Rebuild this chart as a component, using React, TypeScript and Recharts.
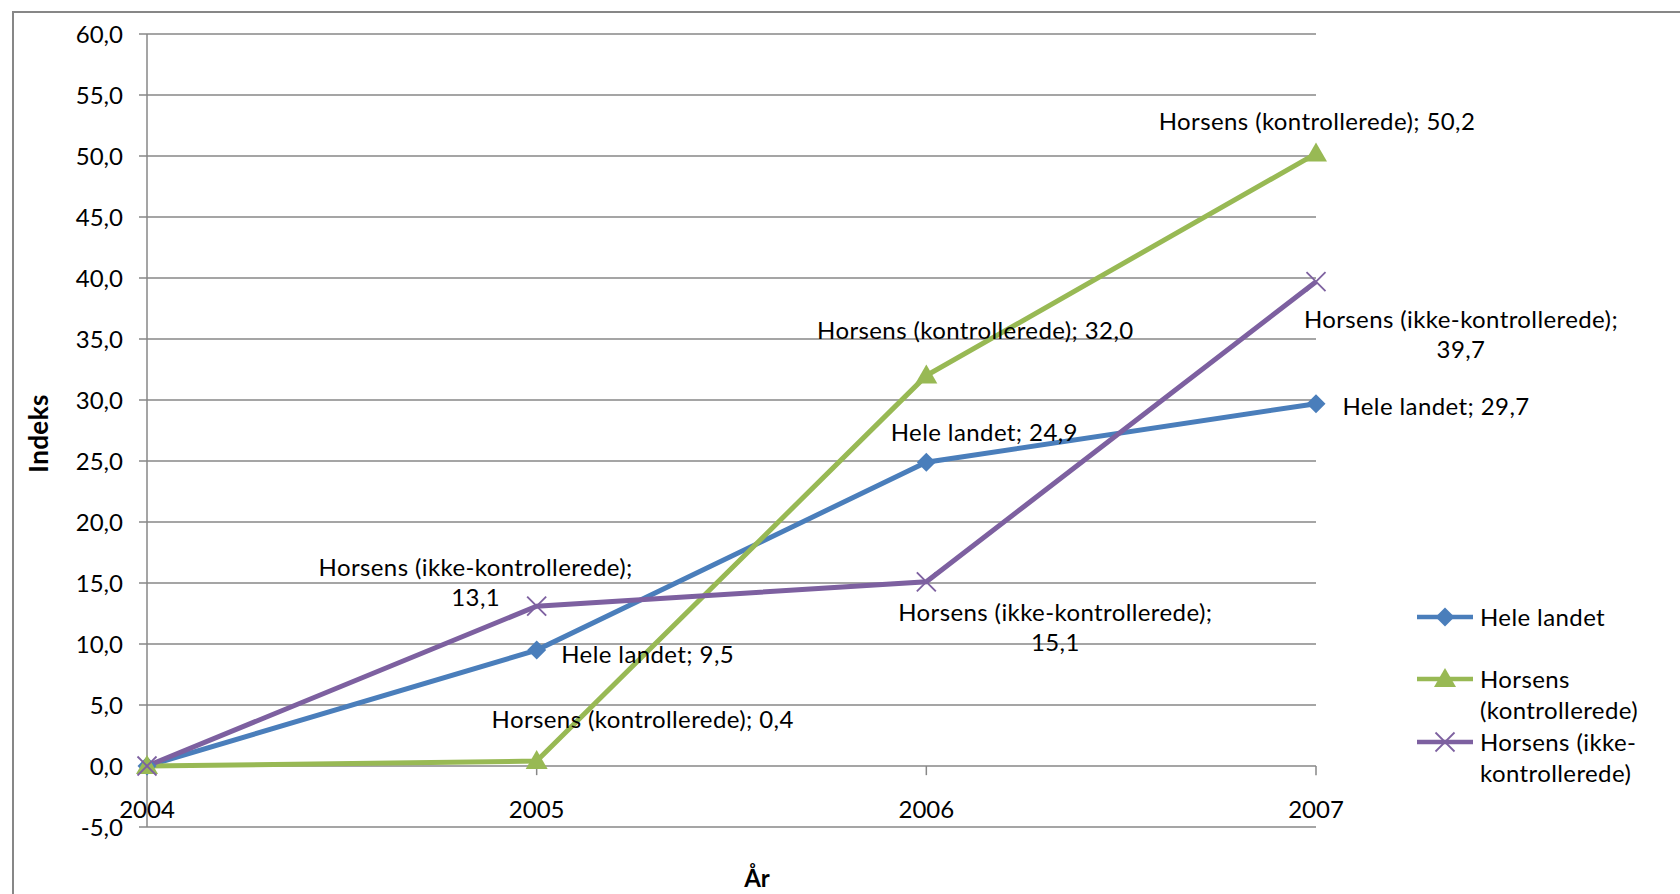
import { LineChart, Line, XAxis, YAxis, CartesianGrid, Legend, ReferenceLine, LabelList } from 'recharts'

const YEARS = ['2004', '2005', '2006', '2007']
const HELE_LANDET = [0, 9.5, 24.9, 29.7]
const HORSENS_KONTROLLEREDE = [0, 0.4, 32.0, 50.2]
const HORSENS_IKKE_KONTROLLEREDE = [0, 13.1, 15.1, 39.7]
const Y_TICKS = [-5, 0, 5, 10, 15, 20, 25, 30, 35, 40, 45, 50, 55, 60]

const SERIES = [
  { key: 'hele', name: 'Hele landet', values: HELE_LANDET, color: '#4A7EBB', marker: 'diamond', legend: ['Hele landet'], wrap: false },
  { key: 'kontrol', name: 'Horsens (kontrollerede)', values: HORSENS_KONTROLLEREDE, color: '#98B954', marker: 'triangle', legend: ['Horsens', '(kontrollerede)'], wrap: false },
  { key: 'ikke', name: 'Horsens (ikke-kontrollerede)', values: HORSENS_IKKE_KONTROLLEREDE, color: '#7D60A0', marker: 'cross', legend: ['Horsens (ikke-', 'kontrollerede)'], wrap: true },
]

// where each data label sits, relative to its point (centre of the text block)
const LABEL_OFFSETS: Record<string, ({ dx: number; dy: number } | null)[]> = {
  hele: [null, { dx: 111, dy: 5 }, { dx: 58, dy: -29 }, { dx: 120, dy: 3 }],
  kontrol: [null, { dx: 106, dy: -41 }, { dx: 49, dy: -45 }, { dx: 1, dy: -32 }],
  ikke: [null, { dx: -61, dy: -23 }, { dx: 129, dy: 46 }, { dx: 145, dy: 53 }],
}

const FONT = 'Lato, sans-serif'
const FONT_SIZE = 24
const SPACING = 0.4
const CAP_HALF = 8
const LINE_GAP = 30
const GRID = '#878787'

const chartData = YEARS.map((year, i) => {
  const row: Record<string, string | number> = { year }
  SERIES.forEach((s) => (row[s.key] = s.values[i]))
  return row
})

const fmt = (v: number) => v.toFixed(1).replace('.', ',')

function Marker({ cx, cy, type, color }: { cx: number; cy: number; type: string; color: string }) {
  if (type === 'diamond') {
    return <polygon points={`${cx},${cy - 9.5} ${cx + 9.5},${cy} ${cx},${cy + 9.5} ${cx - 9.5},${cy}`} fill={color} />
  }
  if (type === 'triangle') {
    return <polygon points={`${cx},${cy - 11} ${cx + 11},${cy + 8} ${cx - 11},${cy + 8}`} fill={color} />
  }
  return (
    <g stroke={color} strokeWidth={1.8}>
      <line x1={cx - 9.5} y1={cy - 9.5} x2={cx + 9.5} y2={cy + 9.5} />
      <line x1={cx - 9.5} y1={cy + 9.5} x2={cx + 9.5} y2={cy - 9.5} />
    </g>
  )
}

const makeLabel = (s: (typeof SERIES)[number]) => (props: any) => {
  const { index, value } = props
  const px = props.viewBox?.x ?? props.x
  const py = props.viewBox?.y ?? props.y
  const off = LABEL_OFFSETS[s.key][index]
  if (!off || px == null) return null
  const lines = s.wrap ? [`${s.name};`, fmt(value)] : [`${s.name}; ${fmt(value)}`]
  const top = py + off.dy - ((lines.length - 1) * LINE_GAP) / 2
  return (
    <g key={`${s.key}-lbl-${index}`}>
      {lines.map((t, i) => (
        <text
          key={i}
          x={px + off.dx}
          y={top + i * LINE_GAP + CAP_HALF}
          textAnchor="middle"
          fontFamily={FONT}
          fontSize={FONT_SIZE}
          letterSpacing={SPACING}
          fill="#000"
        >
          {t}
        </text>
      ))}
    </g>
  )
}

function YearTick({ x, y, payload }: any) {
  return (
    <text x={x} y={y - 9} textAnchor="middle" fontFamily={FONT} fontSize={FONT_SIZE} fill="#000">
      {payload.value}
    </text>
  )
}

function YTitle({ viewBox }: any) {
  const x = viewBox.x + 48
  const y = viewBox.y + viewBox.height / 2 + 3
  return (
    <text x={x} y={y} transform={`rotate(-90, ${x}, ${y})`} textAnchor="middle" fontFamily={FONT} fontWeight="bold" fontSize={26} letterSpacing={SPACING} fill="#000">
      Indeks
    </text>
  )
}

function XTitle() {
  return (
    <text x={757} y={887} textAnchor="middle" fontFamily={FONT} fontWeight="bold" fontSize={FONT_SIZE} fill="#000">
      År
    </text>
  )
}

function LegendBox() {
  const rows = [27, 89, 152]
  return (
    <svg width={260} height={210}>
      {SERIES.map((s, i) => (
        <g key={s.key}>
          <line x1={7} x2={63} y1={rows[i]} y2={rows[i]} stroke={s.color} strokeWidth={4.5} />
          <Marker cx={35} cy={rows[i]} type={s.marker} color={s.color} />
          {s.legend.map((t, j) => (
            <text key={j} x={70} y={rows[i] + 9 + j * 31} fontFamily={FONT} fontSize={FONT_SIZE} letterSpacing={SPACING} fill="#000">
              {t}
            </text>
          ))}
        </g>
      ))}
    </svg>
  )
}

export default function App() {
  return (
    <div style={{ position: 'absolute', left: 0, top: 0, width: 1680, height: 894, overflow: 'hidden', background: '#fff' }}>
      <div style={{ position: 'absolute', left: 12, top: 11, width: 1720, height: 950, borderTop: `2px solid ${GRID}`, borderLeft: `2px solid ${GRID}` }} />
      <div style={{ position: 'absolute', left: 0, top: 0 }}>
        <LineChart width={1680} height={894} data={chartData} margin={{ top: 34, right: 364, bottom: 0, left: 0 }}>
          <CartesianGrid vertical={false} stroke={GRID} strokeWidth={1.5} />
          <XAxis
            dataKey="year"
            height={67}
            axisLine={false}
            tickLine={false}
            tickSize={0}
            tickMargin={0}
            tick={<YearTick />}
            interval={0}
            label={<XTitle />}
          />
          <YAxis
            width={147}
            domain={[-5, 60]}
            ticks={Y_TICKS}
            tickFormatter={fmt}
            tickSize={8}
            tickMargin={16}
            axisLine={{ stroke: GRID, strokeWidth: 1.5 }}
            tickLine={{ stroke: GRID, strokeWidth: 1.5 }}
            tick={{ fontFamily: FONT, fontSize: FONT_SIZE, fill: '#000' }}
            label={<YTitle />}
          />
          {YEARS.slice(1).map((yr) => (
            <ReferenceLine
              key={yr}
              segment={[{ x: yr, y: 0 }, { x: yr, y: -0.75 }]}
              stroke={GRID}
              strokeWidth={1.5}
            />
          ))}
          <Legend
            layout="vertical"
            align="center"
            verticalAlign="middle"
            wrapperStyle={{ left: 1410, top: 590, width: 260, height: 210 }}
            content={() => <LegendBox />}
          />
          {SERIES.map((s) => (
            <Line
              key={s.key}
              type="linear"
              dataKey={s.key}
              name={s.name}
              stroke={s.color}
              strokeWidth={5}
              isAnimationActive={false}
              dot={(p: any) => <Marker key={`${s.key}-${p.index}`} cx={p.cx} cy={p.cy} type={s.marker} color={s.color} />}
              activeDot={false}
            >
              <LabelList dataKey={s.key} content={makeLabel(s)} />
            </Line>
          ))}
        </LineChart>
      </div>
    </div>
  )
}
